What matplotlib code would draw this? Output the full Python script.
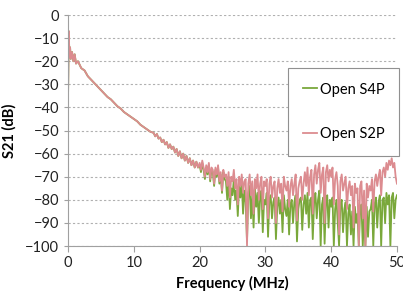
import numpy as np
import matplotlib
matplotlib.use("Agg")
import matplotlib.pyplot as plt

# ---- data ----
# shared low-frequency part (both traces overlap here)
freq_low = [0, 0.1, 0.2, 0.3, 0.4, 0.6, 0.8, 1.0, 1.2, 1.5, 2, 2.5, 3, 3.5, 4,
            4.5, 5, 5.5, 6, 6.5, 7, 7.5, 8, 8.5, 9, 9.5, 10, 10.5, 11, 11.5,
            12, 12.5, 13, 13.25, 13.5, 13.75, 14, 14.25, 14.5, 14.75, 15,
            15.25, 15.5, 15.75, 16, 16.25, 16.5, 16.75, 17, 17.25, 17.5,
            17.75, 18, 18.25, 18.5, 18.75, 19, 19.25, 19.5, 19.75]
s21_low = [-33, -7, -18, -14, -19, -16, -20, -17, -21, -20, -23, -24, -26.5,
           -28, -29.5, -31, -32.5, -34, -35.5, -36.5, -38, -39.5, -40.5, -42,
           -43, -44, -45, -46, -47.5, -48.5, -49.5, -50.5, -51, -52.5, -51.5,
           -53.5, -53, -55, -54, -56, -55, -57.5, -56, -58, -57, -59.5, -58,
           -61, -59, -62, -60, -63, -61, -64, -62, -65, -63, -66, -63.5, -66]

# noisy high-frequency part, 20..50 MHz every 0.2 MHz
freq_high = [round(20 + 0.2 * i, 1) for i in range(151)]
s2p_high = [
    -64, -67, -63, -66, -70, -65, -68, -64, -71, -66,
    -67, -73, -66, -69, -65, -72, -68, -76, -67, -70,
    -69, -74, -68, -79, -70, -72, -67, -75, -71, -82,
    -70, -74, -69, -77, -72, -71, -100, -73, -69, -78,
    -72, -86, -71, -75, -69, -80, -73, -70, -84, -72,
    -74, -71, -88, -73, -70, -79, -74, -72, -90, -75,
    -71, -77, -73, -85, -70, -74, -76, -72, -83, -74,
    -71, -78, -73, -69, -89, -75, -72, -70, -80, -73,
    -68, -74, -66, -78, -70, -67, -86, -69, -65, -73,
    -67, -64, -77, -69, -66, -90, -68, -65, -72, -67,
    -70, -66, -82, -71, -68, -74, -95, -72, -69, -76,
    -73, -70, -84, -75, -72, -78, -74, -92, -73, -77,
    -75, -100, -74, -72, -88, -76, -100, -73, -79, -74,
    -76, -71, -85, -72, -69, -74, -70, -67, -78, -68,
    -66, -70, -64, -67, -63, -65, -62, -66, -64, -70,
    -73]
s4p_high = [
    -65, -68, -64, -67, -71, -66, -69, -65, -72, -67,
    -68, -74, -67, -70, -66, -73, -69, -77, -68, -71,
    -72, -80, -70, -84, -75, -78, -71, -80, -76, -87,
    -74, -79, -72, -86, -76, -81, -98, -77, -74, -88,
    -78, -92, -75, -83, -77, -90, -79, -76, -94, -80,
    -82, -77, -96, -80, -78, -88, -81, -79, -97, -83,
    -79, -86, -80, -94, -78, -84, -87, -80, -95, -82,
    -80, -90, -81, -78, -98, -84, -80, -79, -93, -82,
    -78, -86, -77, -92, -80, -79, -97, -81, -77, -88,
    -80, -76, -100, -82, -79, -99, -81, -78, -92, -80,
    -83, -79, -100, -84, -80, -90, -100, -82, -80, -94,
    -84, -81, -100, -86, -82, -95, -85, -100, -83, -90,
    -86, -100, -84, -82, -100, -87, -100, -83, -96, -85,
    -84, -80, -100, -82, -79, -92, -81, -78, -100, -80,
    -79, -90, -77, -82, -78, -100, -79, -77, -88, -80,
    -78]

freq = freq_low + freq_high
s4p = s21_low + s4p_high
s2p = s21_low + s2p_high

plt.rcParams["font.family"] = ["Lato", "DejaVu Sans"]

fig = plt.figure(figsize=(4.03, 2.95), dpi=100)
ax = fig.add_axes([0.169, 0.166, 0.816, 0.783])

ax.plot(freq, s4p, color="#7aa83b", lw=1.3, label="Open S4P")
ax.plot(freq, s2p, color="#dc8c90", lw=1.3, label="Open S2P")

ax.set_xlim(0, 50)
ax.set_ylim(-100, 0)
ax.set_xticks(range(0, 51, 10))
ax.set_yticks(range(-100, 1, 10))
ax.yaxis.grid(True, ls=(0, (2, 2)), color="#b0b0b0", lw=0.8)
ax.set_axisbelow(True)
for s in ("top", "right"):
    ax.spines[s].set_visible(False)
for s in ("left", "bottom"):
    ax.spines[s].set_color("#a0a0a0")
ax.tick_params(axis="both", labelsize=10.5, colors="#a0a0a0",
               labelcolor="#222222", length=4, direction="out")
ax.tick_params(axis="y", length=3)

ax.set_xlabel("Frequency (MHz)", fontsize=10.5, fontweight="bold",
              labelpad=4)
ax.set_ylabel("S21 (dB)", fontsize=10.5, fontweight="bold", labelpad=6)

leg = ax.legend(loc="upper left", bbox_to_anchor=(0.669, 0.771),
                borderaxespad=0, fontsize=10.5, handlelength=1.0,
                handletextpad=0.2, labelspacing=2.1, fancybox=False,
                borderpad=1.0, framealpha=1)
leg.get_frame().set_edgecolor("#909090")
leg.get_frame().set_linewidth(0.8)

plt.savefig("out.png", dpi=100)
